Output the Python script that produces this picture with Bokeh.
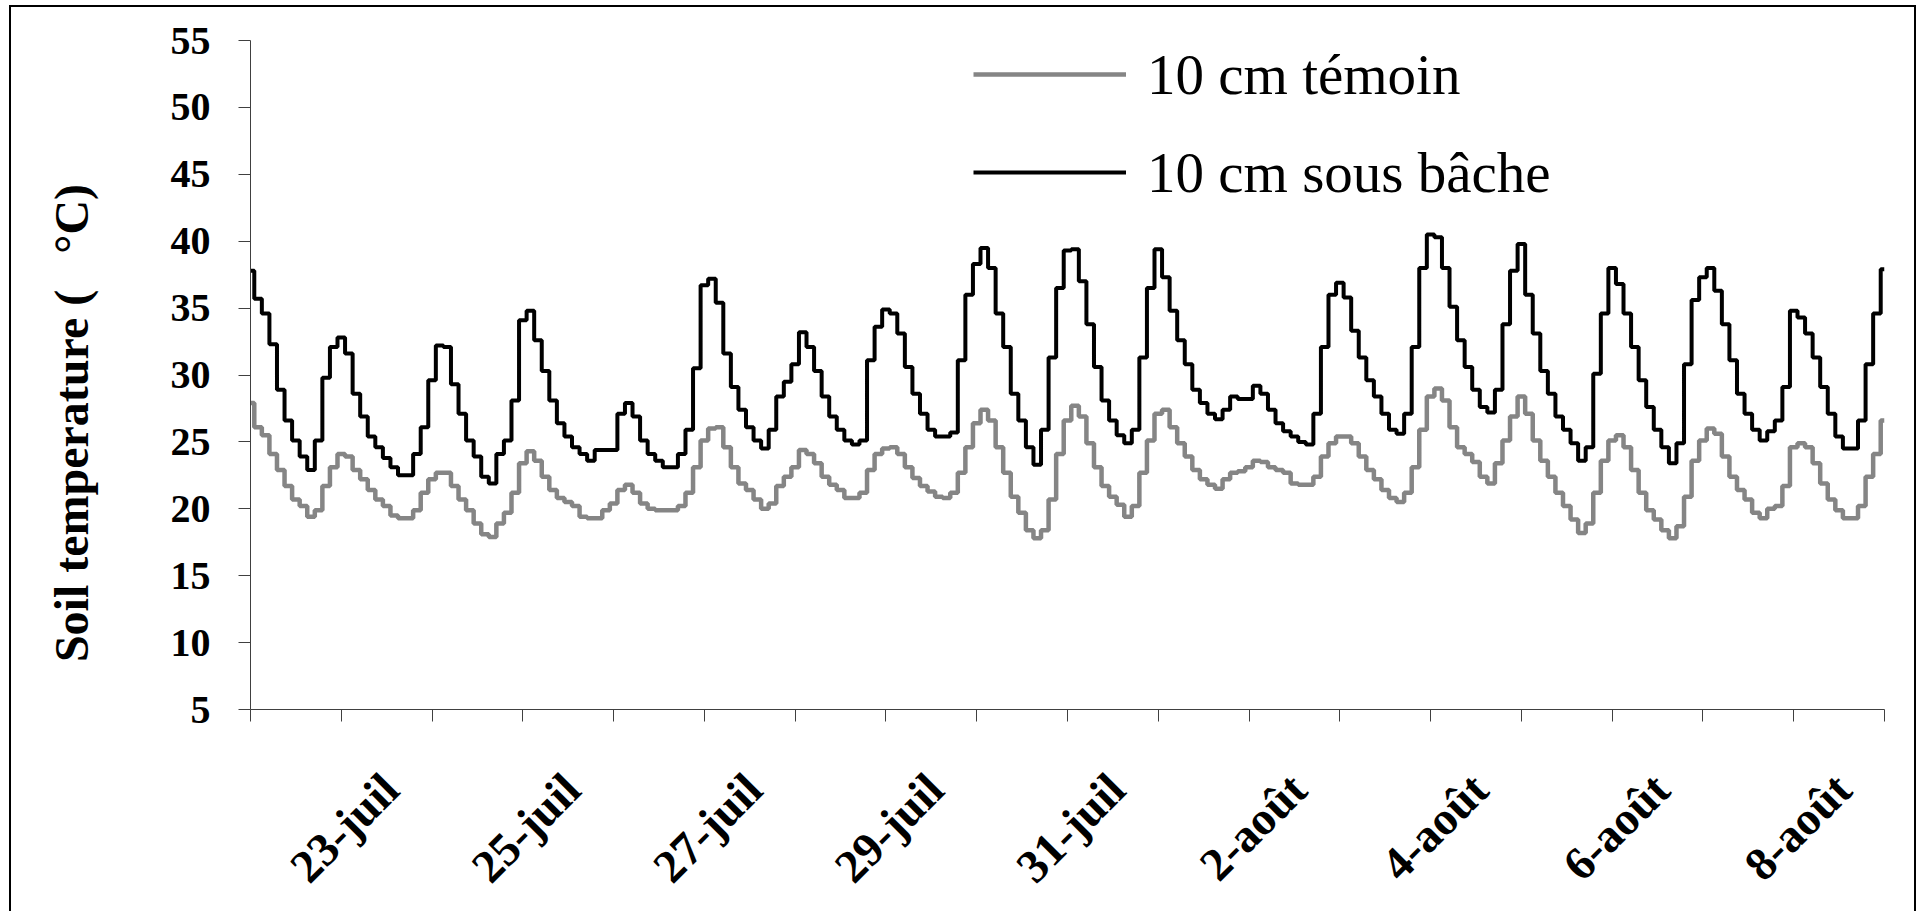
from math import pi
from bokeh.plotting import figure
from bokeh.models import FixedTicker, LinearAxis, Range1d, Legend, LegendItem
from bokeh.embed import file_html
from bokeh.resources import INLINE

# ---- data (2-hour readings, 22 juil 0h -> 9 août 0h) ----
hours = list(range(0, 433, 2))

bache = [
    37.8, 35.7, 34.6, 32.3, 28.9, 26.6, 25.1, 23.9, 22.9, 25.1, 29.8, 32.1,
    32.8, 31.6, 28.6, 26.9, 25.4, 24.6, 23.8, 23.1, 22.5, 22.5, 24.1, 26.1,
    29.6, 32.2, 32.1, 29.3, 27.1, 25.1, 23.9, 22.4, 21.9, 24.1, 25.1, 28.1,
    34.1, 34.8, 32.6, 30.3, 28.1, 26.4, 25.4, 24.6, 24.1, 23.6, 24.4, 24.4,
    24.4, 27.1, 27.9, 26.9, 25.1, 24.1, 23.6, 23.1, 23.1, 24.1, 25.9, 30.5,
    36.7, 37.2, 35.4, 31.6, 29.1, 27.4, 26.1, 25.1, 24.5, 25.9, 28.4, 29.5,
    30.8, 33.2, 32.1, 30.3, 28.4, 26.9, 25.9, 25.1, 24.8, 25.1, 31.1, 33.6,
    34.9, 34.6, 33.1, 30.6, 28.6, 27.1, 25.9, 25.4, 25.4, 25.7, 31.1, 36.0,
    38.3, 39.5, 38.0, 34.6, 32.1, 28.6, 26.6, 24.6, 23.3, 25.9, 31.3, 36.5,
    39.3, 39.4, 37.0, 33.8, 30.6, 28.1, 26.6, 25.5, 24.9, 25.9, 31.3, 36.5,
    39.4, 37.3, 34.8, 32.6, 30.8, 28.9, 27.9, 27.1, 26.7, 27.4, 28.4, 28.2,
    28.2, 29.2, 28.6, 27.4, 26.4, 25.8, 25.4, 25.0, 24.8, 27.1, 32.1, 36.0,
    36.9, 35.8, 33.3, 31.3, 29.6, 28.4, 27.1, 25.9, 25.6, 27.1, 32.1, 38.0,
    40.5, 40.3, 38.0, 35.1, 32.6, 30.6, 28.9, 27.6, 27.2, 28.9, 33.8, 37.8,
    39.8, 36.0, 33.1, 30.3, 28.6, 26.9, 25.9, 24.9, 23.6, 24.6, 30.1, 34.6,
    38.0, 36.8, 34.6, 32.1, 29.6, 27.6, 25.9, 24.6, 23.4, 24.9, 30.8, 35.6,
    37.3, 38.0, 36.3, 33.8, 31.1, 28.6, 27.1, 25.9, 25.1, 25.8, 26.6, 29.1,
    34.8, 34.3, 33.1, 31.3, 29.1, 27.1, 25.4, 24.5, 24.5, 26.6, 30.8, 34.6,
    37.9,
]

temoin = [
    27.9, 26.1, 25.5, 24.1, 22.9, 21.7, 20.7, 20.2, 19.4, 19.9, 21.7, 23.1,
    24.1, 23.9, 22.9, 22.2, 21.4, 20.7, 20.2, 19.5, 19.3, 19.3, 19.9, 21.2,
    22.2, 22.7, 22.7, 21.7, 20.7, 19.9, 18.9, 18.1, 17.9, 18.9, 19.7, 21.2,
    23.4, 24.3, 23.6, 22.4, 21.4, 20.8, 20.5, 20.2, 19.4, 19.3, 19.3, 19.9,
    20.4, 21.4, 21.8, 21.2, 20.4, 20.0, 19.9, 19.9, 19.9, 20.2, 21.2, 23.1,
    25.1, 26.0, 26.1, 24.6, 23.1, 21.9, 21.4, 20.7, 20.0, 20.4, 21.7, 22.4,
    23.1, 24.4, 24.1, 23.4, 22.4, 21.8, 21.4, 20.8, 20.8, 21.2, 22.9, 24.1,
    24.5, 24.6, 24.1, 23.1, 22.3, 21.7, 21.3, 20.9, 20.8, 21.2, 22.7, 24.6,
    26.4, 27.4, 26.6, 24.6, 22.7, 20.9, 19.7, 18.4, 17.8, 18.4, 20.7, 24.1,
    26.6, 27.7, 26.9, 24.9, 23.1, 21.7, 20.9, 20.3, 19.4, 20.2, 22.7, 25.1,
    27.1, 27.4, 26.1, 24.9, 23.9, 22.9, 22.2, 21.8, 21.5, 22.2, 22.7, 22.8,
    23.1, 23.6, 23.5, 23.1, 22.9, 22.7, 21.9, 21.8, 21.8, 22.4, 23.9, 24.9,
    25.4, 25.4, 24.9, 23.9, 22.9, 22.2, 21.4, 20.8, 20.5, 21.2, 23.1, 25.9,
    28.4, 29.0, 28.1, 26.1, 24.6, 24.1, 23.5, 22.4, 21.9, 23.4, 25.1, 26.9,
    28.4, 27.1, 25.1, 23.6, 22.4, 21.2, 20.2, 19.2, 18.2, 18.9, 21.2, 23.6,
    25.1, 25.5, 24.6, 22.9, 21.2, 19.9, 19.2, 18.4, 17.8, 18.7, 20.9, 23.6,
    25.1, 26.0, 25.6, 23.9, 22.4, 21.4, 20.7, 19.7, 19.3, 20.0, 20.2, 21.7,
    24.6, 24.9, 24.6, 23.4, 21.9, 20.7, 19.9, 19.3, 19.3, 20.2, 22.4, 24.1,
    26.6,
]

day_ticks = list(range(0, 433, 24))
label_ticks = list(range(24, 433, 48))
tick_labels = ["23-juil", "25-juil", "27-juil", "29-juil", "31-juil",
               "2-août", "4-août", "6-août", "8-août"]
y_ticks = list(range(5, 56, 5))
series_names = ["10 cm témoin", "10 cm sous bâche"]
y_title = "Soil temperature (\u00a0\u00a0\u00a0°C)"

FONT = "Liberation Serif"

p = figure(width=1907, height=906, output_backend="svg", toolbar_location=None,
           x_range=Range1d(0, 432), y_range=Range1d(5, 55),
           x_axis_location=None,
           min_border_left=239, min_border_right=34, min_border_top=33,
           min_border_bottom=201)
p.styles = {"border-left": "2px solid black", "border-top": "2px solid black",
            "border-right": "2px solid black", "margin": "5px 0 0 9px"}
p.outline_line_color = None
p.xgrid.visible = False
p.ygrid.visible = False
p.background_fill_color = "white"
p.border_fill_color = "white"

r_t = p.step(hours, temoin, mode="center", line_color="#858585", line_width=4.5)
r_b = p.step(hours, bache, mode="center", line_color="black", line_width=4)

# y axis
ya = p.yaxis[0]
ya.ticker = FixedTicker(ticks=y_ticks)
ya.axis_line_color = "#404040"
ya.major_tick_line_color = "#404040"
ya.major_tick_out = 12
ya.major_tick_in = 0
ya.minor_tick_line_color = None
ya.major_label_standoff = 28
ya.major_label_text_font = FONT
ya.major_label_text_font_style = "bold"
ya.major_label_text_font_size = "40px"
ya.major_label_text_color = "black"
# title sits below the frame centre (as in the source); trailing no-break spaces move it down
ya.axis_label = y_title + "\u00a0" * 8
ya.axis_label_text_font = FONT
ya.axis_label_text_font_style = "bold"
ya.axis_label_text_font_size = "48px"
ya.axis_label_text_color = "black"
ya.axis_label_standoff = 70

# x axis: labels centred under their day ticks (label range offset), day ticks as minor ticks
shift = 13
p.extra_x_ranges = {"lab": Range1d(-shift, 432 - shift)}
xa = LinearAxis(x_range_name="lab",
                ticker=FixedTicker(ticks=label_ticks, minor_ticks=[d - shift for d in day_ticks]),
                major_label_overrides=dict(zip(label_ticks, tick_labels)),
                axis_line_color="#404040", major_tick_line_color=None,
                major_tick_out=0, major_tick_in=0,
                minor_tick_line_color="#404040", minor_tick_out=12, minor_tick_in=0,
                major_label_orientation=pi / 4, major_label_standoff=60,
                major_label_text_font=FONT, major_label_text_font_style="bold",
                major_label_text_font_size="47px", major_label_text_color="black")
p.add_layout(xa, "below")

legend = Legend(items=[LegendItem(label=series_names[0], renderers=[r_t]),
                       LegendItem(label=series_names[1], renderers=[r_b])],
                location=(723, 502), orientation="vertical",
                border_line_color=None, background_fill_alpha=0,
                label_text_font=FONT, label_text_font_size="57px",
                label_text_color="black",
                glyph_width=153, glyph_height=70, label_height=70,
                spacing=28, padding=0, margin=0, label_standoff=21)
p.add_layout(legend)

open("out.html", "w").write(file_html(p, INLINE))
